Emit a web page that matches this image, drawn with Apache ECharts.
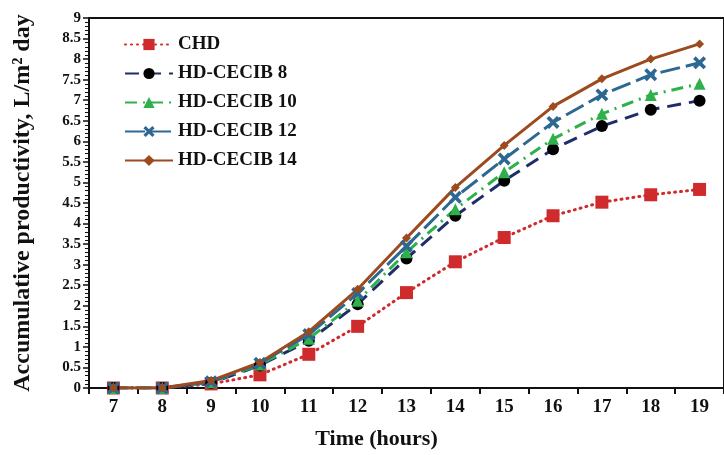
<!DOCTYPE html>
<html lang="en">
<head>
    <meta charset="UTF-8">
    <title>Accumulative productivity</title>
    <style>
        html, body { margin: 0; padding: 0; background: #fff; }
        .show { width: 724px; height: 455px; }
    </style>
</head>
<body>
    <div class="show"></div>
    <script src="https://cdn.jsdelivr.net/npm/echarts@6/dist/echarts.min.js"></script>
    <script>
        // hours on the x axis
        const hours = ['7', '8', '9', '10', '11', '12', '13', '14', '15', '16', '17', '18', '19']
        const chd = [0, 0, 0.1, 0.32, 0.82, 1.5, 2.32, 3.07, 3.66, 4.19, 4.52, 4.7, 4.83]
        const cecib8 = [0, 0, 0.12, 0.55, 1.15, 2.04, 3.15, 4.19, 5.04, 5.81, 6.37, 6.77, 6.99]
        const cecib10 = [0, 0, 0.14, 0.57, 1.2, 2.12, 3.3, 4.35, 5.25, 6.06, 6.67, 7.13, 7.4]
        const cecib12 = [0, 0, 0.15, 0.6, 1.3, 2.3, 3.45, 4.64, 5.57, 6.46, 7.13, 7.62, 7.91]
        const cecib14 = [0, 0, 0.18, 0.62, 1.37, 2.4, 3.65, 4.88, 5.9, 6.85, 7.52, 8.0, 8.37]

        const font = 'Liberation Serif'
        const crossPath = 'path://M2,0 L5,3 L8,0 L10,2 L7,5 L10,8 L8,10 L5,7 L2,10 L0,8 L3,5 L0,2 Z'

        const myChart = echarts.init(document.querySelector('.show'))
        const option = {
            animation: false,
            textStyle: { fontFamily: font, fontWeight: 'bold', color: '#111' },
            grid: {
                left: 89, top: 18, right: -10, bottom: 66,
                show: true, borderColor: '#111', borderWidth: 2
            },
            legend: {
                orient: 'vertical',
                left: 119, top: 30,
                itemWidth: 48, itemHeight: 14, itemGap: 10,
                textStyle: { fontFamily: font, fontWeight: 'bold', fontSize: 19, color: '#111' },
                data: ['CHD', 'HD-CECIB 8', 'HD-CECIB 10', 'HD-CECIB 12', 'HD-CECIB 14']
            },
            xAxis: {
                type: 'category',
                data: hours,
                boundaryGap: true,
                name: 'Time (hours)',
                nameLocation: 'middle',
                nameGap: 40,
                nameTextStyle: { fontFamily: font, fontWeight: 'bold', fontSize: 22, color: '#111', padding: [0, 60, 0, 0] },
                axisLine: { lineStyle: { color: '#111', width: 2 } },
                axisTick: { show: true, length: 6, lineStyle: { color: '#111', width: 2 } },
                axisLabel: { fontFamily: font, fontWeight: 'bold', fontSize: 19, color: '#111', margin: 10 }
            },
            yAxis: {
                type: 'value',
                min: 0, max: 9, interval: 0.5,
                name: 'Accumulative productivity, L/m² day',
                nameLocation: 'middle',
                nameGap: 54,
                nameTextStyle: { fontFamily: font, fontWeight: 'bold', fontSize: 24, color: '#111' },
                axisLine: { show: true, lineStyle: { color: '#111', width: 2 } },
                axisTick: { show: true, length: 6, lineStyle: { color: '#111', width: 1.5 } },
                minorTick: { show: true, splitNumber: 5, length: 4, lineStyle: { color: '#111', width: 1 } },
                splitLine: { show: false },
                axisLabel: { fontFamily: font, fontWeight: 'bold', fontSize: 15, color: '#111', margin: 8 }
            },
            series: [{
                name: 'CHD',
                type: 'line',
                data: chd,
                symbol: 'rect',
                symbolSize: 13,
                itemStyle: { color: '#cf2a2c' },
                lineStyle: { color: '#cf2a2c', width: 3, type: [1, 5], cap: 'round' }
            }, {
                name: 'HD-CECIB 8',
                type: 'line',
                data: cecib8,
                symbol: 'circle',
                symbolSize: 12,
                itemStyle: { color: '#000' },
                lineStyle: { color: '#1f2d6b', width: 3, type: [14, 8] }
            }, {
                name: 'HD-CECIB 10',
                type: 'line',
                data: cecib10,
                symbol: 'triangle',
                symbolSize: 12,
                itemStyle: { color: '#2eb04b' },
                lineStyle: { color: '#2eb04b', width: 3, type: [12, 6, 2, 6] }
            }, {
                name: 'HD-CECIB 12',
                type: 'line',
                data: cecib12,
                symbol: crossPath,
                symbolSize: 13,
                itemStyle: { color: '#2d6893' },
                lineStyle: { color: '#2d6893', width: 3, type: [20, 6] }
            }, {
                name: 'HD-CECIB 14',
                type: 'line',
                data: cecib14,
                symbol: 'diamond',
                symbolSize: 9,
                itemStyle: { color: '#9c4a1e' },
                lineStyle: { color: '#9c4a1e', width: 3 }
            }]
        }

        myChart.setOption(option)
    </script>
</body>
</html>
